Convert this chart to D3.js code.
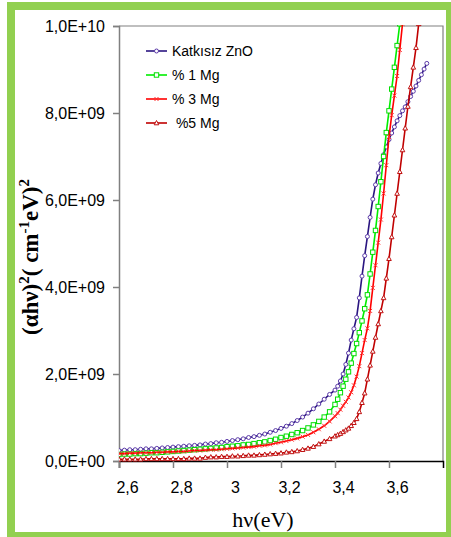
<!DOCTYPE html>
<html>
<head>
<meta charset="utf-8">
<style>
  body { margin: 0; background: #fff; }
  .tick text { font-family: Arial, "Liberation Sans", sans-serif; font-size: 16px; fill: #000; }
  .legend text { font-family: Arial, "Liberation Sans", sans-serif; font-size: 14px; }
</style>
</head>
<body>
<div id="chart"></div>
<script src="https://d3js.org/d3.v7.min.js"></script>
<script>
// (alpha h nu)^2 values in units of 1e9
const zno = [
  [2.60,.24],[2.62,.25],[2.64,.26],[2.66,.26],[2.68,.27],[2.70,.28],[2.72,.28],[2.74,.29],[2.76,.30],[2.78,.31],
  [2.80,.32],[2.82,.33],[2.84,.34],[2.86,.35],[2.88,.36],[2.90,.37],[2.92,.39],[2.94,.40],[2.96,.42],[2.98,.43],
  [3.00,.45],[3.02,.47],[3.04,.49],[3.06,.51],[3.08,.54],[3.10,.56],[3.12,.59],[3.14,.62],[3.16,.66],[3.18,.70],
  [3.20,.75],[3.22,.80],[3.24,.86],[3.26,.93],[3.28,1.01],[3.30,1.10],[3.32,1.20],[3.34,1.31],[3.36,1.42],[3.38,1.53],
  [3.40,1.63],[3.41,1.72],[3.42,1.84],[3.43,2.00],[3.44,2.22],[3.45,2.48],[3.46,2.78],[3.47,3.04],[3.48,3.30],[3.49,3.75],
  [3.50,4.25],[3.51,4.72],[3.52,5.16],[3.53,5.60],[3.54,6.02],[3.55,6.35],[3.56,6.62],[3.57,6.84],[3.58,7.04],[3.59,7.22],
  [3.60,7.39],[3.61,7.54],[3.62,7.68],[3.63,7.82],[3.64,7.94],[3.65,8.05],[3.66,8.14],[3.67,8.26],[3.68,8.38],[3.69,8.50],
  [3.70,8.62],[3.71,8.75],[3.72,8.88],[3.73,9.01],[3.74,9.14]
];
const mg1 = [
  [2.60,.15],[2.62,.16],[2.64,.16],[2.66,.17],[2.68,.17],[2.70,.18],[2.72,.19],[2.74,.19],[2.76,.20],[2.78,.21],
  [2.80,.22],[2.82,.23],[2.84,.24],[2.86,.25],[2.88,.26],[2.90,.27],[2.92,.28],[2.94,.29],[2.96,.30],[2.98,.31],
  [3.00,.33],[3.02,.34],[3.04,.35],[3.06,.37],[3.08,.38],[3.10,.40],[3.12,.42],[3.14,.44],[3.16,.47],[3.18,.50],
  [3.20,.54],[3.22,.57],[3.24,.61],[3.26,.65],[3.28,.70],[3.30,.76],[3.32,.83],[3.34,.91],[3.36,1.01],[3.38,1.13],
  [3.40,1.30],[3.41,1.42],[3.42,1.57],[3.43,1.72],[3.44,1.88],[3.45,2.05],[3.46,2.25],[3.47,2.47],[3.48,2.70],[3.49,2.95],
  [3.50,3.22],[3.51,3.50],[3.52,3.82],[3.53,4.30],[3.54,4.80],[3.55,5.30],[3.56,5.85],[3.57,6.42],[3.58,7.00],[3.59,7.55],
  [3.60,8.05],[3.61,8.55],[3.62,9.05],[3.63,9.55],[3.64,10.05]
];
const mg3 = [
  [2.60,.17],[2.62,.17],[2.64,.18],[2.66,.18],[2.68,.19],[2.70,.19],[2.72,.19],[2.74,.20],[2.76,.20],[2.78,.21],
  [2.80,.21],[2.82,.22],[2.84,.22],[2.86,.23],[2.88,.24],[2.90,.24],[2.92,.25],[2.94,.26],[2.96,.26],[2.98,.27],
  [3.00,.28],[3.02,.29],[3.04,.30],[3.06,.31],[3.08,.32],[3.10,.33],[3.12,.35],[3.14,.36],[3.16,.38],[3.18,.41],
  [3.20,.43],[3.22,.46],[3.24,.49],[3.26,.52],[3.28,.56],[3.30,.60],[3.32,.66],[3.34,.73],[3.36,.81],[3.38,.91],
  [3.40,1.03],[3.41,1.10],[3.42,1.18],[3.43,1.27],[3.44,1.36],[3.45,1.46],[3.46,1.58],[3.47,1.74],[3.48,1.94],[3.49,2.18],
  [3.50,2.48],[3.51,2.78],[3.52,3.05],[3.53,3.45],[3.54,3.98],[3.55,4.50],[3.56,5.02],[3.57,5.55],[3.58,6.15],[3.59,6.80],
  [3.60,7.45],[3.61,7.95],[3.62,8.40],[3.63,8.85],[3.64,9.45],[3.65,10.05]
];
const mg5 = [
  [2.60,.04],[2.62,.04],[2.64,.04],[2.66,.04],[2.68,.04],[2.70,.05],[2.72,.05],[2.74,.05],[2.76,.05],[2.78,.05],
  [2.80,.05],[2.82,.05],[2.84,.05],[2.86,.06],[2.88,.06],[2.90,.06],[2.92,.08],[2.94,.09],[2.96,.09],[2.98,.10],
  [3.00,.10],[3.02,.11],[3.04,.11],[3.06,.12],[3.08,.13],[3.10,.13],[3.12,.14],[3.14,.15],[3.16,.16],[3.18,.17],
  [3.20,.18],[3.22,.20],[3.24,.21],[3.26,.23],[3.28,.26],[3.30,.29],[3.32,.33],[3.34,.39],[3.36,.45],[3.38,.51],
  [3.40,.57],[3.41,.60],[3.42,.63],[3.43,.67],[3.44,.71],[3.45,.75],[3.46,.81],[3.47,.88],[3.48,.97],[3.49,1.13],
  [3.50,1.34],[3.51,1.56],[3.52,1.88],[3.53,2.20],[3.54,2.52],[3.55,2.84],[3.56,3.15],[3.57,3.45],[3.58,3.75],[3.59,4.20],
  [3.60,4.65],[3.61,5.15],[3.62,5.65],[3.63,6.15],[3.64,6.65],[3.65,7.15],[3.66,7.65],[3.67,8.15],[3.68,8.60],[3.69,9.05],
  [3.70,9.50],[3.71,10.05]
];
const seriesNames = ['Katkısız ZnO', '% 1 Mg', '% 3 Mg', ' %5 Mg'];
const xTicks = [2.6, 2.8, 3.0, 3.2, 3.4, 3.6];
const yTicks = [0, 2e9, 4e9, 6e9, 8e9, 1e10];

const width = 451;
const height = 537;
const margin = { top: 26, right: 8, bottom: 76, left: 119 };

const svg = d3.select('#chart')
  .append('svg')
  .attr('width', width)
  .attr('height', height);

// green frame
svg.append('rect')
  .attr('x', 11).attr('y', 6)
  .attr('width', 439).attr('height', 530)
  .attr('fill', 'none')
  .attr('stroke', '#92d050')
  .attr('stroke-width', 8);

const x = d3.scaleLinear()
  .domain([2.6, 3.8])
  .range([margin.left, width - margin.right]);

const y = d3.scaleLinear()
  .domain([0, 1e10])
  .range([height - margin.bottom, margin.top]);

function sciFmt(d) {
  const parts = d.toExponential(1).split('e');
  const e = parts[1];
  return parts[0].replace('.', ',') + 'E' + e[0] + e.slice(1).padStart(2, '0');
}

// plot border (top and right)
svg.append('path')
  .attr('d', `M${x(2.6)},${y(1e10)}H${x(3.8)}V${y(0)}`)
  .attr('fill', 'none')
  .attr('stroke', '#808080')
  .attr('stroke-width', 1.2);

// x axis
const xAxis = svg.append('g')
  .attr('transform', `translate(0, ${y(0)})`)
  .call(d3.axisBottom(x).tickValues(xTicks).tickSize(7).tickPadding(14)
    .tickFormat(d => String(+d.toFixed(1)).replace('.', ',')));
xAxis.select('.domain').attr('stroke', '#000').attr('stroke-width', 1.5);
xAxis.selectAll('.tick line').attr('stroke', '#808080').attr('stroke-width', 1.5);
xAxis.selectAll('.tick text').attr('dx', 8);

// y axis
const yAxis = svg.append('g')
  .attr('transform', `translate(${x(2.6)}, 0)`)
  .call(d3.axisLeft(y).tickValues(yTicks).tickSize(6).tickPadding(8).tickFormat(sciFmt));
yAxis.select('.domain').attr('stroke', '#808080').attr('stroke-width', 1.5);
yAxis.selectAll('.tick line').attr('stroke', '#808080').attr('stroke-width', 1.5);

// axis titles
svg.append('text')
  .attr('x', 263)
  .attr('y', 527)
  .attr('text-anchor', 'middle')
  .style('font-family', '"Times New Roman", "Liberation Serif", serif')
  .style('font-size', '22px')
  .text('hν(eV)');

const yTitle = svg.append('text')
  .attr('transform', 'translate(38, 257) rotate(-90)')
  .attr('text-anchor', 'middle')
  .style('font-family', '"Times New Roman", "Liberation Serif", serif')
  .style('font-size', '23px')
  .style('font-weight', 'bold');
yTitle.append('tspan').text('(αhν)');
yTitle.append('tspan').attr('dy', -9).style('font-size', '15px').text('2');
yTitle.append('tspan').attr('dy', 9).text('( cm');
yTitle.append('tspan').attr('dy', -9).style('font-size', '15px').text('-1');
yTitle.append('tspan').attr('dy', 9).text('eV)');
yTitle.append('tspan').attr('dy', -9).style('font-size', '15px').text('2');

svg.append('clipPath').attr('id', 'plot-clip')
  .append('rect')
  .attr('x', x(2.6)).attr('y', y(1e10) - 1)
  .attr('width', x(3.8) - x(2.6)).attr('height', y(0) - y(1e10) + 2);

const series = [
  { name: seriesNames[0], data: zno, line: '#2a1580', mark: '#5b3aa8', shape: 'circle' },
  { name: seriesNames[1], data: mg1, line: '#00ee00', mark: '#00dd00', shape: 'square' },
  { name: seriesNames[2], data: mg3, line: '#ff0000', mark: '#ff3030', shape: 'cross' },
  { name: seriesNames[3], data: mg5, line: '#c00000', mark: '#c01010', shape: 'triangle' }
];

const line = d3.line()
  .x(d => x(d[0]))
  .y(d => y(d[1] * 1e9));

function marker(g, shape, color) {
  if (shape === 'circle') {
    g.append('circle').attr('r', 2).attr('fill', '#fff').attr('stroke', color).attr('stroke-width', 1);
  } else if (shape === 'square') {
    g.append('rect').attr('x', -2.2).attr('y', -2.2).attr('width', 4.4).attr('height', 4.4)
      .attr('fill', '#fff').attr('stroke', color).attr('stroke-width', 1);
  } else if (shape === 'cross') {
    g.append('path').attr('d', 'M-2,-2L2,2M-2,2L2,-2').attr('stroke', color).attr('stroke-width', 1);
  } else {
    g.append('path').attr('d', 'M0,-2.5L2.3,1.8H-2.3Z').attr('fill', '#fff').attr('stroke', color).attr('stroke-width', 1);
  }
}

const plot = svg.append('g').attr('clip-path', 'url(#plot-clip)');

series.forEach(s => {
  plot.append('path')
    .datum(s.data)
    .attr('fill', 'none')
    .attr('stroke', s.line)
    .attr('stroke-width', 1.6)
    .attr('d', line);

  plot.append('g')
    .selectAll('g')
    .data(s.data)
    .join('g')
    .attr('transform', d => `translate(${x(d[0])},${y(d[1] * 1e9)})`)
    .each(function () { marker(d3.select(this), s.shape, s.mark); });
});

// legend
const legend = svg.append('g').attr('class', 'legend');
series.forEach((s, i) => {
  const cy = 51 + i * 24;
  const row = legend.append('g');
  row.append('line')
    .attr('x1', 146).attr('x2', 167)
    .attr('y1', cy).attr('y2', cy)
    .attr('stroke', s.line)
    .attr('stroke-width', 1.6);
  const m = row.append('g').attr('transform', `translate(156.5,${cy})`);
  marker(m, s.shape, s.mark);
  row.append('text')
    .attr('x', 172)
    .attr('y', cy + 5)
    .attr('xml:space', 'preserve')
    .style('white-space', 'pre')
    .text(s.name);
});
</script>
</body>
</html>
